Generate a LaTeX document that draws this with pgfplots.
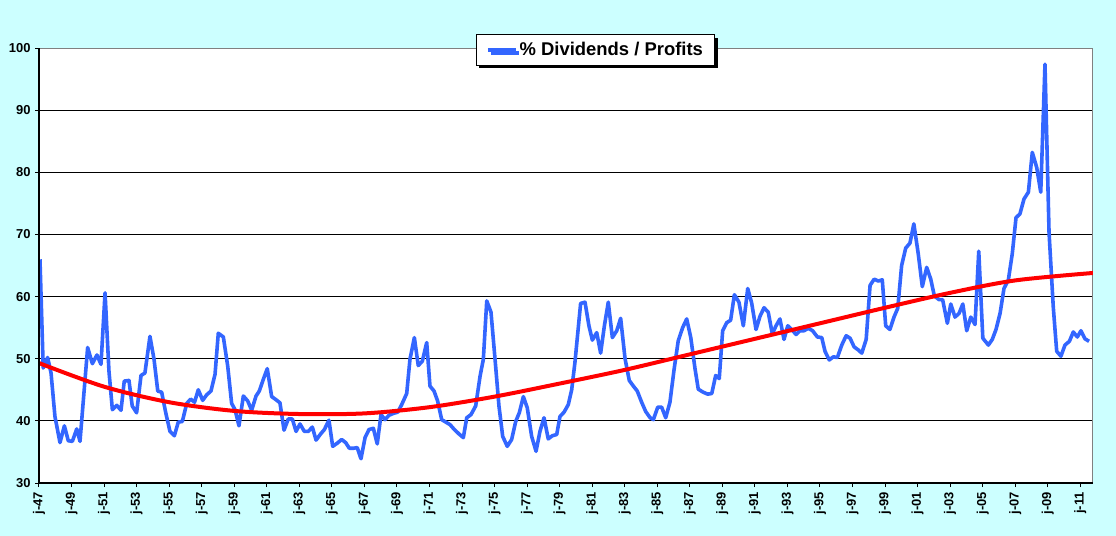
\documentclass[border=0pt]{standalone}
\usepackage{fontspec}
\setmainfont{Liberation Sans}
\usepackage{pgfplots}
\pgfplotsset{compat=1.18}
\usepackage{pgfplotstable}
\usetikzlibrary{shadows}
\definecolor{bgcol}{RGB}{204,255,255}
\definecolor{divblue}{RGB}{51,102,255}
\definecolor{bordergray}{RGB}{128,128,128}

\pgfplotstableread{
year value
1947.06 66.0
1947.26 48.5
1947.53 50.2
1947.74 47.7
1947.98 40.7
1948.29 36.5
1948.56 39.2
1948.80 36.8
1949.05 36.7
1949.32 38.7
1949.52 36.7
1949.99 51.8
1950.28 49.2
1950.56 50.6
1950.81 49.1
1951.06 60.6
1951.30 48.0
1951.51 41.8
1951.78 42.5
1952.04 41.7
1952.24 46.4
1952.53 46.5
1952.73 42.4
1953.00 41.3
1953.27 47.3
1953.51 47.7
1953.82 53.6
1954.07 49.9
1954.30 44.8
1954.54 44.6
1954.79 41.3
1955.05 38.3
1955.32 37.6
1955.56 39.8
1955.81 39.9
1956.08 42.8
1956.32 43.5
1956.56 43.0
1956.79 45.0
1957.06 43.3
1957.31 44.2
1957.57 44.8
1957.82 47.5
1958.02 54.1
1958.33 53.5
1958.60 48.8
1958.84 42.8
1959.05 41.8
1959.29 39.2
1959.56 44.0
1959.83 43.2
1960.07 41.7
1960.34 44.0
1960.54 44.8
1960.79 46.7
1961.03 48.4
1961.30 43.9
1961.57 43.4
1961.81 42.9
1962.06 38.5
1962.32 40.3
1962.57 40.3
1962.80 38.3
1963.04 39.5
1963.31 38.3
1963.55 38.3
1963.80 39.0
1964.03 36.9
1964.31 37.9
1964.54 38.6
1964.82 40.1
1965.05 35.9
1965.33 36.4
1965.60 37.0
1965.85 36.5
1966.07 35.6
1966.36 35.6
1966.56 35.7
1966.79 33.9
1967.04 37.3
1967.28 38.6
1967.55 38.8
1967.79 36.3
1968.02 41.0
1968.27 40.2
1968.51 40.9
1968.78 41.2
1969.05 41.4
1969.29 42.6
1969.60 44.4
1969.80 49.9
1970.07 53.4
1970.31 48.9
1970.56 49.6
1970.83 52.6
1971.03 45.6
1971.28 44.8
1971.50 43.2
1971.75 40.2
1972.00 39.8
1972.26 39.4
1972.53 38.6
1972.81 37.9
1973.08 37.3
1973.29 40.5
1973.55 41.0
1973.84 42.4
1974.11 47.2
1974.31 49.9
1974.52 59.3
1974.78 57.5
1975.03 49.9
1975.27 42.4
1975.50 37.5
1975.78 35.9
1976.05 37.0
1976.30 39.9
1976.52 41.3
1976.77 43.9
1977.01 42.1
1977.28 37.5
1977.55 35.1
1977.79 38.3
1978.04 40.5
1978.30 37.1
1978.55 37.6
1978.82 37.8
1979.02 40.7
1979.27 41.4
1979.53 42.6
1979.74 45.0
1979.94 49.4
1980.29 58.9
1980.56 59.1
1980.80 55.3
1981.01 53.0
1981.28 54.2
1981.52 50.9
1981.75 55.3
1981.99 59.1
1982.24 53.4
1982.51 54.5
1982.75 56.5
1983.02 50.0
1983.28 46.5
1983.53 45.6
1983.77 44.8
1984.04 43.0
1984.29 41.5
1984.56 40.5
1984.76 40.2
1985.03 42.2
1985.27 42.2
1985.52 40.5
1985.78 43.0
1986.03 48.2
1986.29 52.9
1986.56 55.0
1986.81 56.4
1987.06 53.4
1987.32 48.4
1987.52 45.1
1987.83 44.6
1988.10 44.3
1988.35 44.4
1988.59 47.3
1988.81 46.8
1989.02 54.5
1989.27 55.8
1989.51 56.2
1989.74 60.3
1990.02 59.1
1990.29 55.3
1990.56 61.3
1990.80 59.0
1991.07 54.7
1991.31 56.8
1991.56 58.2
1991.82 57.5
1992.07 54.0
1992.30 55.3
1992.54 56.4
1992.79 53.1
1993.02 55.3
1993.26 54.7
1993.53 53.9
1993.77 54.5
1994.02 54.5
1994.28 54.9
1994.55 54.5
1994.84 53.5
1995.11 53.4
1995.31 51.2
1995.57 49.8
1995.82 50.3
1996.07 50.2
1996.34 52.2
1996.61 53.7
1996.85 53.3
1997.10 51.9
1997.36 51.4
1997.57 50.9
1997.84 53.1
1998.08 61.8
1998.33 62.8
1998.59 62.5
1998.83 62.7
1999.04 55.3
1999.30 54.7
1999.55 56.7
1999.78 58.1
2000.02 65.0
2000.27 67.8
2000.53 68.6
2000.77 71.7
2001.04 66.9
2001.29 61.6
2001.56 64.7
2001.81 62.8
2002.03 60.1
2002.32 59.5
2002.54 59.5
2002.83 55.7
2003.04 58.8
2003.30 56.7
2003.55 57.3
2003.78 58.8
2004.02 54.5
2004.27 56.7
2004.53 55.5
2004.76 67.3
2005.01 53.3
2005.35 52.2
2005.59 53.1
2005.82 54.7
2006.07 57.3
2006.31 61.3
2006.58 62.7
2006.82 66.9
2007.05 72.7
2007.29 73.3
2007.54 75.7
2007.81 76.8
2008.05 83.2
2008.32 80.8
2008.57 76.8
2008.83 97.4
2009.08 70.3
2009.34 58.3
2009.55 51.2
2009.81 50.4
2010.06 52.2
2010.33 52.8
2010.57 54.3
2010.82 53.5
2011.04 54.5
2011.29 53.2
2011.54 52.8
}\divdata

\pgfplotstableread{
year value
1947.0 49.3
1951.0 45.5
1955.0 43.0
1959.0 41.6
1963.0 41.1
1967.0 41.2
1971.0 42.2
1975.0 43.9
1979.0 46.0
1983.0 48.2
1987.0 50.7
1991.0 53.2
1995.0 55.7
1999.0 58.2
2003.0 60.6
2007.0 62.6
2011.78 63.8
}\trenddata

\begin{document}
\begin{tikzpicture}
\path[use as bounding box, fill=bgcol] (-39bp,-53bp) rectangle (1077bp,483bp);
\begin{axis}[
  scale only axis,
  width=1054bp, height=435bp,
  xmin=1947, xmax=2011.78,
  ymin=30, ymax=100,
  ytick={30,40,...,100},
  xtick={1947,1949,...,2011},
  xticklabels={j-47,j-49,j-51,j-53,j-55,j-57,j-59,j-61,j-63,j-65,j-67,j-69,j-71,j-73,j-75,j-77,j-79,j-81,j-83,j-85,j-87,j-89,j-91,j-93,j-95,j-97,j-99,j-01,j-03,j-05,j-07,j-09,j-11},
  xtick pos=left, ytick pos=left,
  tick align=outside,
  major tick length=4bp,
  tick style={black, line width=1bp},
  ymajorgrids,
  major grid style={black, line width=1bp},
  axis line style={bordergray, line width=1bp},
  axis background/.style={fill=white},
  /pgf/number format/assume math mode=true,
  yticklabel style={font=\bfseries\fontsize{13}{15}\selectfont, xshift=-1bp},
  xticklabel style={font=\bfseries\fontsize{13}{15}\selectfont, yshift=-1.5bp, rotate=90, anchor=east},
  legend style={at={(0.528,1.032)}, anchor=north, draw=black, line width=1bp, fill=white,
    font=\bfseries\fontsize{18.5}{22}\selectfont, inner xsep=10bp, inner ysep=6bp,
    drop shadow={shadow xshift=3bp, shadow yshift=-3bp, fill=black, opacity=1}},
  legend image code/.code={\draw[#1, line width=3.6bp] (0bp,0bp) -- (28bp,0bp);},
  legend cell align=left,
  after end axis/.code={
    \draw[black, line width=1.2bp] (rel axis cs:0,1) -- (rel axis cs:0,0) -- (rel axis cs:1,0);
  },
]
\addplot[divblue, line width=3.6bp, line join=round, sharp plot] table[x=year, y=value] {\divdata};
\addlegendentry{\% Dividends / Profits}
\addplot[red, line width=4bp, smooth, forget plot] table[x=year, y=value] {\trenddata};
\end{axis}
\end{tikzpicture}
\end{document}
